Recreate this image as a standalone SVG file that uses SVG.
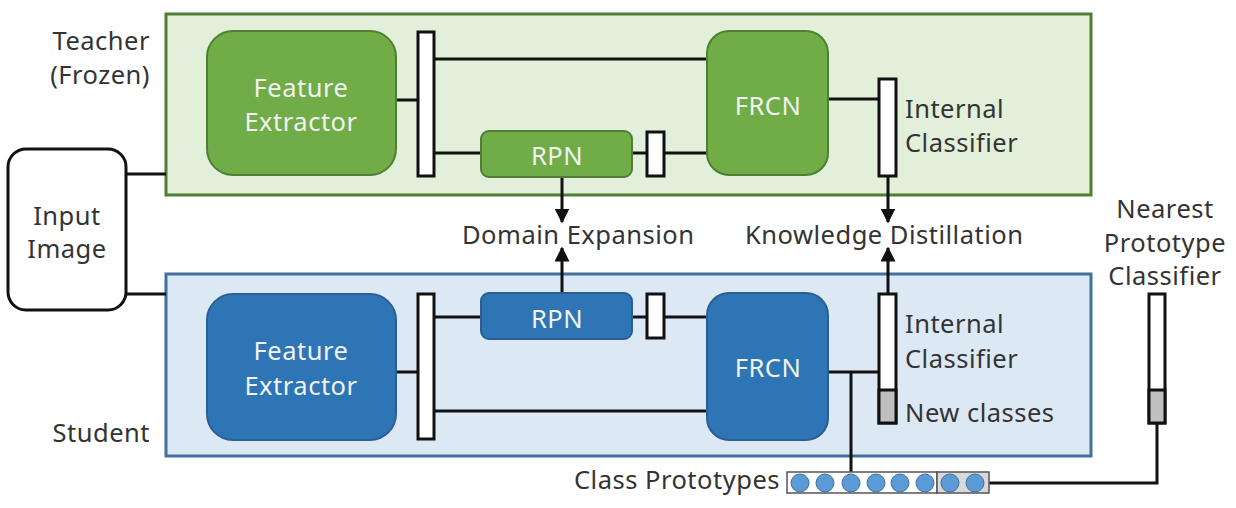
<svg xmlns="http://www.w3.org/2000/svg" width="1236" height="508" viewBox="0 0 1236 508">
<defs>
<style>
.t{font-family:"Noto Sans","Open Sans","Liberation Sans",sans-serif;font-size:25.5px;letter-spacing:0.5px;fill:#333}
.w{font-family:"Noto Sans","Open Sans","Liberation Sans",sans-serif;font-size:25.5px;letter-spacing:0.5px;fill:#f2f2f2;text-anchor:middle}
.gn{fill:#70ad47;stroke:#507e32;stroke-width:2}
.bn{fill:#2e75b6;stroke:#2b5f93;stroke-width:2}
.bar{fill:#fff;stroke:#111;stroke-width:3}
.gray{fill:#bfbfbf;stroke:#111;stroke-width:3}
.ln{stroke:#111;stroke-width:3;fill:none}
.dot{fill:#5b9bd5;stroke:#41719c;stroke-width:1}
</style>
<marker id="ah" viewBox="0 0 10 10" refX="9" refY="5" markerWidth="5" markerHeight="5" orient="auto" markerUnits="strokeWidth">
<path d="M0,0 L10,5 L0,10 z" fill="#111"/>
</marker>
</defs>
<rect width="1236" height="508" fill="#fff"/>

<g id="teacher-container">
<rect x="166" y="14" width="925" height="181" fill="#e2efda" stroke="#507e32" stroke-width="3"/>
<text class="t" x="150" y="50" text-anchor="end">Teacher</text>
<text class="t" x="150" y="84" text-anchor="end">(Frozen)</text>
</g>
<g id="student-container">
<rect x="166" y="274" width="925" height="182" fill="#dde8f5" stroke="#41719c" stroke-width="3"/>
<text class="t" x="150" y="442" text-anchor="end">Student</text>
</g>

<g id="connectors">
<path class="ln" d="M126,174 H166"/>
<path class="ln" d="M126,294 H166"/>
<path class="ln" d="M396,100 H417"/>
<path class="ln" d="M435,59 H707"/>
<path class="ln" d="M435,153 H481"/>
<path class="ln" d="M632,153 H646"/>
<path class="ln" d="M665,153 H707"/>
<path class="ln" d="M828,99 H878"/>
<path class="ln" d="M562,177 V222" marker-end="url(#ah)"/>
<path class="ln" d="M562,293 V248" marker-end="url(#ah)"/>
<path class="ln" d="M888,176 V222" marker-end="url(#ah)"/>
<path class="ln" d="M888,293 V248" marker-end="url(#ah)"/>
<path class="ln" d="M396,372 H417"/>
<path class="ln" d="M435,317 H481"/>
<path class="ln" d="M632,317 H646"/>
<path class="ln" d="M665,317 H707"/>
<path class="ln" d="M435,411 H707"/>
<path class="ln" d="M828,372 H878"/>
<path class="ln" d="M851,372 V472"/>
<path class="ln" d="M989,483 H1157 V424"/>
</g>

<g id="input-image">
<rect x="8" y="149" width="118" height="161" rx="18" fill="#fff" stroke="#111" stroke-width="3"/>
<text class="t" x="67" y="225" text-anchor="middle">Input</text>
<text class="t" x="67" y="258" text-anchor="middle">Image</text>
</g>

<g id="teacher-fe">
<rect class="gn" x="207" y="31" width="189" height="144" rx="26"/>
<text class="w" x="301" y="97">Feature</text>
<text class="w" x="301" y="131">Extractor</text>
</g>
<g id="teacher-bar"><rect class="bar" x="418" y="32" width="16" height="144"/></g>
<g id="teacher-rpn">
<rect class="gn" x="481" y="131" width="151" height="46" rx="8"/>
<text class="w" x="557" y="165">RPN</text>
</g>
<g id="teacher-small-bar"><rect class="bar" x="647" y="132" width="17" height="44"/></g>
<g id="teacher-frcn">
<rect class="gn" x="707" y="31" width="121" height="144" rx="22"/>
<text class="w" x="768" y="115">FRCN</text>
</g>
<g id="teacher-internal-classifier">
<rect class="bar" x="879" y="79" width="17" height="97"/>
<text class="t" x="905" y="118">Internal</text>
<text class="t" x="905" y="152">Classifier</text>
</g>

<g id="domain-expansion"><text class="t" x="462" y="244">Domain Expansion</text></g>
<g id="knowledge-distillation"><text class="t" x="745" y="244">Knowledge Distillation</text></g>

<g id="student-fe">
<rect class="bn" x="207" y="294" width="189" height="146" rx="26"/>
<text class="w" x="301" y="360">Feature</text>
<text class="w" x="301" y="395">Extractor</text>
</g>
<g id="student-bar"><rect class="bar" x="418" y="294" width="16" height="145"/></g>
<g id="student-rpn">
<rect class="bn" x="481" y="293" width="151" height="46" rx="8"/>
<text class="w" x="557" y="328">RPN</text>
</g>
<g id="student-small-bar"><rect class="bar" x="647" y="294" width="17" height="44"/></g>
<g id="student-frcn">
<rect class="bn" x="707" y="293" width="121" height="147" rx="22"/>
<text class="w" x="768" y="377">FRCN</text>
</g>
<g id="student-internal-classifier">
<rect class="bar" x="879" y="294" width="17" height="129"/>
<rect class="gray" x="879" y="390" width="17" height="33"/>
<text class="t" x="905" y="333">Internal</text>
<text class="t" x="905" y="368">Classifier</text>
<text class="t" x="905" y="422">New classes</text>
</g>

<g id="class-prototypes">
<text class="t" x="780" y="489" text-anchor="end">Class Prototypes</text>
<rect x="787" y="472" width="150" height="21" fill="#fff" stroke="#555" stroke-width="1.5"/>
<rect x="937" y="472" width="52" height="21" fill="#d9d9d9" stroke="#555" stroke-width="1.5"/>
<circle class="dot" cx="800" cy="483" r="9"/>
<circle class="dot" cx="825" cy="483" r="9"/>
<circle class="dot" cx="851" cy="483" r="9"/>
<circle class="dot" cx="876" cy="483" r="9"/>
<circle class="dot" cx="900" cy="483" r="9"/>
<circle class="dot" cx="925" cy="483" r="9"/>
<circle class="dot" cx="950" cy="483" r="9"/>
<circle class="dot" cx="975" cy="483" r="9"/>
</g>

<g id="nearest-prototype-classifier">
<text class="t" x="1165" y="218" text-anchor="middle">Nearest</text>
<text class="t" x="1165" y="252" text-anchor="middle">Prototype</text>
<text class="t" x="1165" y="285" text-anchor="middle">Classifier</text>
<rect class="bar" x="1149" y="294" width="16" height="129"/>
<rect class="gray" x="1149" y="390" width="16" height="33"/>
</g>
</svg>
